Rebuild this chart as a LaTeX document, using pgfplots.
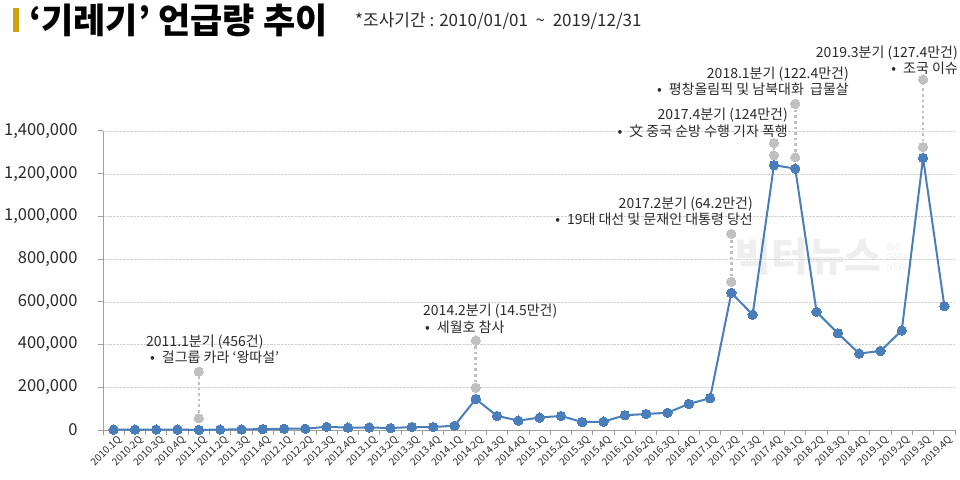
\documentclass[border=0pt]{standalone}
\usepackage{pgfplots}
\pgfplotsset{compat=1.18}
\usepackage{fontspec}
\setmainfont{Noto Sans CJK KR}
\definecolor{lineblue}{HTML}{4A7EBB}
\definecolor{dotgray}{HTML}{C0C0C0}
\definecolor{goldbar}{HTML}{CFA10B}
\definecolor{txt}{HTML}{2A2A2A}
\pgfplotstableread{
idx val
0 2000
1 2000
2 2000
3 2000
4 456
5 2000
6 3000
7 4000
8 6000
9 6000
10 15000
11 11000
12 12000
13 9000
14 14000
15 14000
16 20000
17 145000
18 66000
19 44000
20 58000
21 66000
22 37000
23 39000
24 69000
25 75000
26 81000
27 122000
28 149000
29 642000
30 540000
31 1240000
32 1224000
33 553000
34 453000
35 358000
36 370000
37 466000
38 1274000
39 580000
}\datatable
\begin{document}
\begin{tikzpicture}[x=1pt,y=1pt]
\useasboundingbox (0,0) rectangle (960,479);
% watermark
\node[text=gray!13, font=\fontsize{40}{40}\selectfont\bfseries, anchor=center] at (808,222) {빅터뉴스};
\node[text=gray!13, font=\fontsize{9}{10}\selectfont, align=left, anchor=west] at (883,222) {BIG\\DATA\\NEWS};
\begin{axis}[
  at={(103pt,49pt)}, anchor=south west, scale only axis,
  width=852pt, height=299pt,
  xmin=-0.5, xmax=39.5, ymin=0, ymax=1400000,
  clip=false,
  axis x line*=bottom, axis y line*=left,
  axis line style={draw=gray!75, line width=1pt},
  tick align=outside,
  ytick={0,200000,...,1400000},
  scaled y ticks=false,
  /pgf/number format/fixed,
  /pgf/number format/1000 sep={,},
  /pgf/number format/assume math mode=true,
  yticklabel style={font=\fontsize{16.5}{16.5}\selectfont, text=txt, xshift=-17pt},
  major tick length=5pt,
  minor tick length=5pt,
  ytick style={draw=gray!75, line width=1pt},
  ymajorgrids,
  grid style={densely dotted, gray!35},
  xtick={0,...,39},
  major x tick style={draw=none},
  minor xtick={-0.5,0.5,...,39.5},
  minor x tick style={draw=gray!75, line width=1pt},
  xticklabels={2010.1Q,2010.2Q,2010.3Q,2010.4Q,2011.1Q,2011.2Q,2011.3Q,2011.4Q,2012.1Q,2012.2Q,2012.3Q,2012.4Q,2013.1Q,2013.2Q,2013.3Q,2013.4Q,2014.1Q,2014.2Q,2014.3Q,2014.4Q,2015.1Q,2015.2Q,2015.3Q,2015.4Q,2016.1Q,2016.2Q,2016.3Q,2016.4Q,2017.1Q,2017.2Q,2017.3Q,2017.4Q,2018.1Q,2018.2Q,2018.3Q,2018.4Q,2019.1Q,2019.2Q,2019.3Q,2019.4Q},
  xticklabel style={rotate=45, anchor=north east, font=\fontsize{10}{10}\selectfont, text=txt, xshift=4pt, inner sep=1.5pt},
]
\pgfplotsset{annot/.style={dotgray, line width=2.6pt, dash pattern=on 2.6pt off 3pt, mark=*, mark size=4.6pt, mark options={solid, fill=dotgray, draw=dotgray, line width=0pt}}}
\addplot[annot] coordinates {(4,55000) (4,273000)};
\addplot[annot] coordinates {(17,198000) (17,419000)};
\addplot[annot] coordinates {(29,694000) (29,918000)};
\addplot[annot] coordinates {(31,1286000) (31,1344000)};
\addplot[annot] coordinates {(32,1277000) (32,1527000)};
\addplot[annot] coordinates {(38,1325000) (38,1641000)};
\addplot[lineblue, line width=2pt, mark=*, mark size=4.7pt, mark options={fill=lineblue, draw=lineblue, line width=0pt}] table[x=idx, y=val] {\datatable};
\end{axis}
% title
\fill[goldbar] (13,447) rectangle (19,471);
\node[anchor=west, font=\fontsize{35}{35}\selectfont\bfseries, text=black, inner sep=0pt] at (29,459) {‘기레기’ 언급량 추이};
\node[anchor=west, font=\fontsize{17}{17}\selectfont, text=txt, inner sep=0pt] at (355,458) {*조사기간 : 2010/01/01 \ {\textasciitilde} \ 2019/12/31};
% annotations
\tikzset{ann/.style={font=\fontsize{14}{16.5}\selectfont, text=txt, inner sep=0pt}}
\node[ann, anchor=west, align=left] at (146,129.5) {2011.1분기 (456건)\\\hspace{4pt}•\hspace{7pt}걸그룹 카라 ‘왕따설’};
\node[ann, anchor=west, align=left] at (423,160) {2014.2분기 (14.5만건)\\\hspace{2pt}•\hspace{7pt}세월호 참사};
\node[ann, anchor=east, align=right] at (753,267.5) {2017.2분기 (64.2만건)\\•\hspace{7pt}19대 대선 및 문재인 대통령 당선};
\node[ann, anchor=east, align=right] at (788,356) {2017.4분기 (124만건)\\•\hspace{7pt}文 중국 순방 수행 기자 폭행};
\node[ann, anchor=east, align=right] at (849,397.5) {2018.1분기 (122.4만건)\\•\hspace{7pt}평창올림픽 및 남북대화\ \ 급물살};
\node[ann, anchor=east, align=right] at (958,418.5) {2019.3분기 (127.4만건)\\•\hspace{7pt}조국 이슈};
\end{tikzpicture}
\end{document}
